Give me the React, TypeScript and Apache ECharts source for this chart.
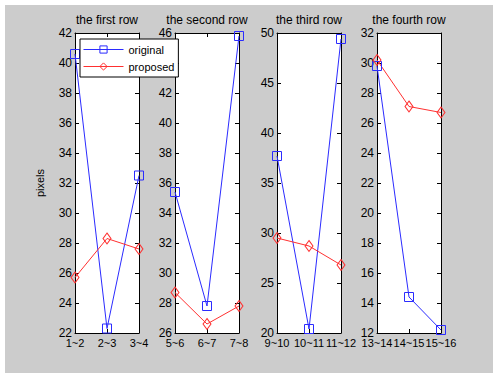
import React, { useEffect, useRef } from "react";
import * as echarts from "echarts";

const titles = ["the first row", "the second row", "the third row", "the fourth row"];
const categories1 = ["1~2", "2~3", "3~4"];
const categories2 = ["5~6", "6~7", "7~8"];
const categories3 = ["9~10", "10~11", "11~12"];
const categories4 = ["13~14", "14~15", "15~16"];
const original1 = [40.6, 22.3, 32.5];
const proposed1 = [25.7, 28.3, 27.6];
const original2 = [35.4, 27.8, 45.8];
const proposed2 = [28.7, 26.6, 27.8];
const original3 = [37.7, 20.4, 49.4];
const proposed3 = [29.5, 28.7, 26.8];
const original4 = [29.8, 14.4, 12.2];
const proposed4 = [30.2, 27.1, 26.7];
const yMins = [22, 26, 20, 12];
const yMaxs = [42, 46, 50, 32];
const yIntervals = [2, 2, 5, 2];

const panels = [
  { cats: categories1, orig: original1, prop: proposed1 },
  { cats: categories2, orig: original2, prop: proposed2 },
  { cats: categories3, orig: original3, prop: proposed3 },
  { cats: categories4, orig: original4, prop: proposed4 },
];

const gridLefts = [75, 175, 277, 377];
const FONT = "Liberation Sans, Arial, sans-serif";
const BLUE = "#2b2bff";
const RED = "#ff3030";

export default function App() {
  const ref = useRef<HTMLDivElement>(null);
  useEffect(() => {
    if (!ref.current) return;
    const chart = echarts.init(ref.current, null, { renderer: "svg" });
    const grid: any[] = [];
    const xAxis: any[] = [];
    const yAxis: any[] = [];
    const series: any[] = [];
    const graphic: any[] = [
      { type: "rect", z: -10, shape: { x: 5, y: 5, width: 490, height: 370 }, style: { fill: "#cccccc" } },
    ];
    panels.forEach((p, i) => {
      grid.push({ left: gridLefts[i], top: 33, width: 64, height: 300, backgroundColor: "#ffffff", show: true, borderWidth: 0 });
      const axisLine = { show: true, lineStyle: { color: "#000", width: 1 } };
      const tick = { show: true, inside: true, length: 4, lineStyle: { color: "#000" } };
      xAxis.push({
        type: "category", gridIndex: i, data: p.cats, boundaryGap: false, position: "bottom",
        axisLine, axisTick: { ...tick, alignWithLabel: true },
        axisLabel: { color: "#000", fontSize: 11, fontFamily: FONT, margin: 4, interval: 0 },
        splitLine: { show: false },
      });
      xAxis.push({
        type: "category", gridIndex: i, data: p.cats, boundaryGap: false, position: "top",
        axisLine, axisTick: tick, axisLabel: { show: false }, splitLine: { show: false },
      });
      yAxis.push({
        type: "value", gridIndex: i, min: yMins[i], max: yMaxs[i], interval: yIntervals[i], position: "left",
        axisLine, axisTick: tick,
        axisLabel: { color: "#000", fontSize: 12, fontFamily: FONT, margin: 3 },
        splitLine: { show: false },
        ...(i === 0
          ? { name: "pixels", nameLocation: "middle", nameRotate: 90, nameGap: 30, nameTextStyle: { color: "#000", fontSize: 11, fontFamily: FONT } }
          : {}),
      });
      yAxis.push({
        type: "value", gridIndex: i, min: yMins[i], max: yMaxs[i], interval: yIntervals[i], position: "right",
        axisLine, axisTick: tick, axisLabel: { show: false }, splitLine: { show: false },
      });
      series.push({
        name: "original", type: "line", xAxisIndex: i * 2, yAxisIndex: i * 2, data: p.orig,
        symbol: "rect", symbolSize: 9, showSymbol: true,
        lineStyle: { color: BLUE, width: 1 },
        itemStyle: { color: "rgba(255,255,255,0)", borderColor: BLUE, borderWidth: 1 },
      });
      series.push({
        name: "proposed", type: "line", xAxisIndex: i * 2, yAxisIndex: i * 2, data: p.prop,
        symbol: "diamond", symbolSize: [8, 11], showSymbol: true,
        lineStyle: { color: RED, width: 1 },
        itemStyle: { color: "rgba(255,255,255,0)", borderColor: RED, borderWidth: 1 },
      });
      graphic.push({
        type: "text", x: gridLefts[i] + 32, y: 14,
        style: { text: titles[i], textAlign: "center", font: `12px ${FONT}`, fill: "#000" },
      });
    });
    chart.setOption({
      animation: false,
      backgroundColor: "#ffffff",
      grid,
      xAxis,
      yAxis,
      series,
      graphic,
      legend: {
        data: [
          { name: "original", itemStyle: { color: "rgba(255,255,255,0)", borderColor: BLUE, borderWidth: 1 }, lineStyle: { color: BLUE, width: 1 } },
          { name: "proposed", itemStyle: { color: "rgba(255,255,255,0)", borderColor: RED, borderWidth: 1 }, lineStyle: { color: RED, width: 1 } },
        ],
        orient: "vertical",
        left: 80, top: 39,
        backgroundColor: "#ffffff",
        borderColor: "#000",
        borderWidth: 1,
        borderRadius: 0,
        padding: [5, 4, 5, 3],
        itemWidth: 40,
        itemHeight: 9,
        itemGap: 6,
        textStyle: { color: "#000", fontSize: 11, fontFamily: FONT },
      },
    });
    return () => chart.dispose();
  }, []);
  return <div ref={ref} style={{ position: "fixed", left: 0, top: 0, width: 493, height: 373 }} />;
}
